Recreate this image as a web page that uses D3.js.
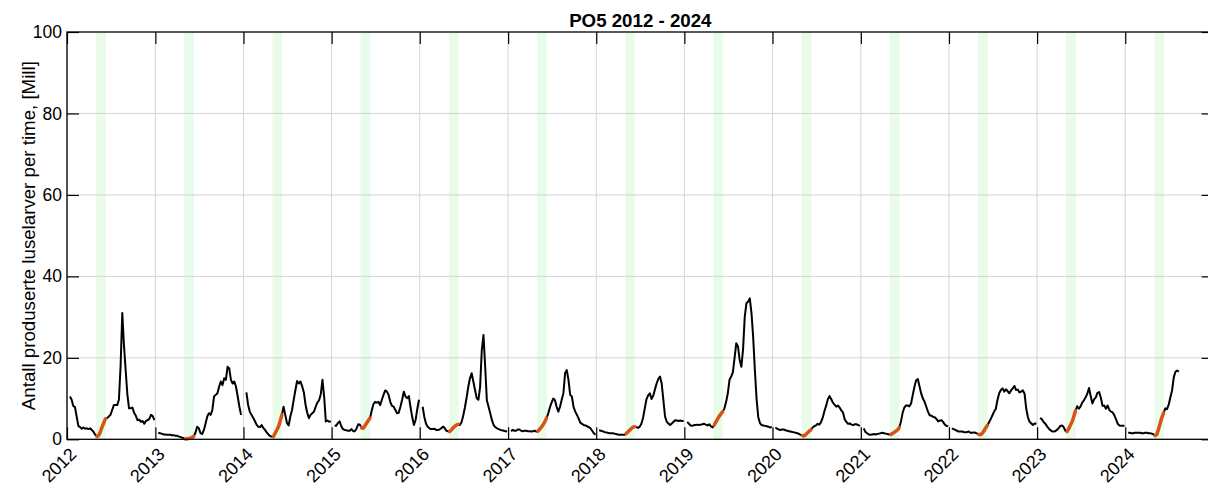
<!DOCTYPE html>
<html>
<head>
<meta charset="utf-8">
<title>PO5 2012 - 2024</title>
<script src="https://cdn.jsdelivr.net/npm/d3@7"></script>
<style>
  html, body { margin: 0; padding: 0; background: #fff; }
  svg { display: block; }
  text { font-family: "Liberation Sans", Arial, Helvetica, sans-serif; fill: #000; }
</style>
</head>
<body>
<svg id="chart" width="1208" height="485"></svg>
<script>
// Weekly production of lice larvae (million per hour), PO5.
// Each series starts at week 2 of its year.
const years = [2012, 2013, 2014, 2015, 2016, 2017, 2018, 2019, 2020, 2021, 2022, 2023, 2024];
const yTickValues = [0, 20, 40, 60, 80, 100];
const firstWeek = 2;

const lice2012 = [10.5, 9.8, 8.2, 7.9, 5.6, 3.3, 3.0, 2.6, 2.9, 2.6, 2.7, 2.5, 2.7, 2.3, 1.8, 1.1, 0.7, 0.9, 1.8, 3.0, 4.0, 5.0, 5.2, 5.6, 6.0, 7.2, 8.4, 8.4, 8.4, 9.7, 18, 31, 23, 17, 11, 7.6, 7.6, 7.8, 6.5, 5.8, 4.7, 4.8, 4.3, 4.5, 3.8, 4.5, 4.7, 5.0, 6.0, 5.7, 4.7];
const lice2013 = [1.6, 1.5, 1.4, 1.2, 1.2, 1.1, 1.1, 1.1, 1.0, 1.0, 0.9, 0.9, 0.7, 0.6, 0.4, 0.25, 0.1, 0.1, 0.2, 0.3, 0.5, 0.7, 1.6, 3.1, 2.7, 1.5, 1.3, 2.3, 3.9, 5.6, 6.4, 6.0, 7.2, 10.5, 10.9, 11.3, 12.9, 14.2, 13.3, 15, 14.6, 17.8, 17.4, 14.6, 13.7, 14.2, 12.9, 10.5, 8, 6];
const lice2014 = [11.5, 8.5, 6.8, 6.0, 5.3, 4.5, 3.6, 3.1, 3.0, 3.5, 2.8, 2.3, 1.7, 1.2, 0.8, 0.65, 0.7, 1.5, 2.3, 3.1, 4.5, 6.0, 8.0, 6.0, 4.0, 3.4, 5.6, 7.2, 9.7, 12.1, 14.3, 13.7, 14.2, 13.0, 11.5, 8.5, 6.5, 5.2, 6.0, 6.4, 6.8, 8.0, 9.0, 9.6, 11, 14.6, 10.5, 4.4, 4.6, 4.3, 4.4];
const lice2015 = [3.4, 3.3, 4.0, 4.4, 3.2, 2.5, 2.3, 2.2, 2.1, 2.1, 2.5, 2.0, 2.0, 2.6, 3.7, 3.6, 2.8, 2.7, 3.3, 4.0, 4.6, 5.2, 7.0, 8.6, 9.2, 9.0, 9.2, 8.4, 9.7, 10.9, 12.0, 11.7, 10.9, 9.2, 8.2, 8.0, 7.2, 6.4, 6.5, 8.0, 9.7, 11.7, 10.5, 10.1, 10.6, 7.8, 5.4, 3.5, 4.8, 7.5, 9.7];
const lice2016 = [8.0, 5.5, 3.8, 3.1, 2.7, 2.5, 2.5, 2.6, 2.3, 2.3, 2.4, 2.7, 3.1, 2.8, 2.1, 2.0, 1.9, 2.3, 2.8, 3.2, 3.5, 3.7, 3.5, 4.2, 5.8, 7.8, 10.2, 12.9, 15.0, 16.2, 14.2, 12.1, 10.1, 9.7, 12.9, 21.9, 25.6, 17.8, 9.5, 8.0, 6.4, 4.7, 3.5, 3.0, 2.7, 2.5, 2.3, 2.2, 2.1, 2.0, 1.9];
const lice2017 = [2.0, 2.3, 2.1, 2.1, 2.4, 2.4, 2.1, 2.0, 2.1, 2.1, 2.0, 2.0, 1.9, 2.0, 2.1, 1.9, 2.0, 2.5, 3.0, 3.6, 4.3, 5.2, 6.3, 7.8, 9.0, 10.0, 9.6, 8.0, 6.8, 8.0, 9.7, 11.3, 16.2, 17.0, 14.6, 10.9, 10.5, 8.0, 6.8, 6.0, 5.1, 4.1, 3.8, 3.5, 3.4, 3.2, 3.0, 2.7, 2.1, 1.5, 1.1];
const lice2018 = [2.2, 2.1, 2.0, 1.8, 1.7, 1.6, 1.5, 1.5, 1.5, 1.4, 1.3, 1.2, 1.1, 1.1, 1.1, 1.1, 1.4, 1.8, 2.2, 2.6, 3.0, 3.1, 3.0, 2.8, 3.1, 3.8, 5.3, 7.6, 9.8, 10.8, 11.3, 9.9, 10.7, 12.2, 13.7, 14.8, 15.4, 13.7, 9.7, 5.6, 4.3, 3.9, 3.5, 3.9, 4.3, 4.7, 4.6, 4.5, 4.6, 4.5, 4.5];
const lice2019 = [4.3, 3.8, 3.4, 3.3, 3.5, 3.5, 3.6, 3.5, 3.6, 3.7, 3.8, 3.6, 3.4, 3.7, 3.2, 2.9, 3.5, 4.3, 5.0, 5.7, 6.3, 6.8, 7.6, 9.2, 11.3, 14.6, 15.4, 16.5, 20.0, 23.6, 22.8, 19.5, 17.8, 22.0, 30.0, 33.4, 33.8, 34.6, 31.0, 25.0, 17.0, 10.0, 5.5, 4.0, 3.5, 3.4, 3.3, 3.2, 3.1, 2.9, 3.0];
const lice2020 = [2.9, 2.6, 2.4, 2.3, 2.4, 2.4, 2.2, 2.1, 2.0, 1.9, 1.8, 1.7, 1.6, 1.5, 1.3, 1.1, 0.9, 0.8, 1.2, 1.6, 2.0, 2.3, 2.9, 3.2, 3.4, 3.8, 3.6, 4.2, 5.3, 6.9, 8.2, 9.8, 10.6, 9.9, 9.0, 8.5, 8.0, 8.3, 7.8, 7.1, 6.6, 4.9, 4.3, 3.8, 3.9, 3.6, 3.5, 3.7, 3.7, 3.5, 3.3];
const lice2021 = [2.7, 1.8, 1.5, 1.2, 1.1, 1.2, 1.3, 1.2, 1.3, 1.4, 1.5, 1.6, 1.5, 1.4, 1.3, 1.2, 1.2, 1.4, 1.7, 2.0, 2.3, 2.9, 4.3, 6.5, 7.8, 8.3, 8.3, 8.1, 8.8, 10.9, 12.9, 14.5, 14.8, 13.0, 11.2, 10.0, 9.2, 8.0, 6.8, 5.9, 5.8, 5.5, 5.4, 5.0, 4.4, 4.6, 4.7, 4.2, 3.6, 3.3, 3.2];
const lice2022 = [2.7, 2.5, 2.3, 2.1, 1.9, 1.9, 1.9, 1.8, 1.7, 1.8, 1.9, 1.6, 1.6, 1.7, 1.6, 1.4, 1.2, 1.1, 1.5, 2.1, 2.8, 3.4, 4.2, 5.0, 5.9, 6.8, 7.5, 9.7, 11.3, 12.1, 12.5, 11.7, 12.3, 11.8, 11.3, 12.0, 12.5, 13.1, 12.1, 12.2, 11.5, 11.7, 12.0, 11.2, 7.5, 5.4, 4.3, 3.9, 3.5, 3.9, 3.8];
const lice2023 = [5.2, 5.0, 4.3, 3.9, 3.3, 2.7, 2.3, 2.0, 1.9, 2.0, 2.3, 2.7, 3.3, 3.4, 3.0, 2.1, 1.9, 2.6, 3.5, 4.3, 5.6, 7.0, 8.1, 7.5, 8.1, 9.0, 9.6, 10.3, 11.2, 12.6, 10.6, 8.8, 9.8, 10.3, 11.4, 11.6, 10.2, 8.2, 8.3, 7.5, 8.3, 7.2, 6.8, 6.6, 5.9, 4.9, 3.8, 3.4, 3.3, 3.3, 3.3];
const lice2024 = [1.6, 1.6, 1.5, 1.5, 1.6, 1.6, 1.6, 1.6, 1.5, 1.5, 1.6, 1.6, 1.5, 1.5, 1.4, 1.2, 0.9, 1.2, 2.5, 4.0, 5.4, 6.5, 7.6, 7.4, 8.5, 10.3, 12.0, 15.2, 16.6, 16.9, 16.6];

// Spring window (month index, day) shaded every year; weeks inside it are highlighted.
const windowStart = [4, 1];   // 1 May
const windowEnd = [5, 10];    // 10 June

const seriesByYear = [lice2012, lice2013, lice2014, lice2015, lice2016, lice2017, lice2018,
                      lice2019, lice2020, lice2021, lice2022, lice2023, lice2024];

// date of a given week in a given year
const weekDate = (year, week) => new Date(year, 0, 1 + 7 * week - 2);

const seasons = years.map((year, i) => ({
  year,
  points: seriesByYear[i].map((v, k) => ({ date: weekDate(year, firstWeek + k), value: v }))
}));

const svg = d3.select("#chart");
const plotLeft = 67, plotRight = 1213.6, plotTop = 32, plotBottom = 439.3;

const x = d3.scaleTime()
  .domain([new Date(2012, 0, 1), new Date(2025, 0, 1)])
  .range([plotLeft, plotRight]);
const y = d3.scaleLinear().domain([0, 100]).range([plotBottom, plotTop]);

// shaded spring windows
svg.append("g").selectAll("rect")
  .data(years)
  .join("rect")
  .attr("x", d => x(new Date(d, windowStart[0], windowStart[1])))
  .attr("width", d => x(new Date(d, windowEnd[0], windowEnd[1])) - x(new Date(d, windowStart[0], windowStart[1])))
  .attr("y", plotTop)
  .attr("height", plotBottom - plotTop)
  .attr("fill", "#e9fbe9");

// grid
const yearDates = years.map(yr => new Date(yr, 0, 1));
const grid = svg.append("g").attr("stroke", "#d4d4d4").attr("stroke-width", 1);
grid.selectAll(".vg").data(yearDates).join("line")
  .attr("class", "vg")
  .attr("x1", d => x(d)).attr("x2", d => x(d))
  .attr("y1", plotTop).attr("y2", plotBottom);
grid.selectAll(".hg").data(yTickValues.slice(1, -1)).join("line")
  .attr("class", "hg")
  .attr("x1", plotLeft).attr("x2", plotRight)
  .attr("y1", d => y(d)).attr("y2", d => y(d));

// weekly series, one segment per year
const line = d3.line().x(d => x(d.date)).y(d => y(d.value));
const inWindow = d => {
  const yr = d.date.getFullYear();
  return d.date >= new Date(yr, windowStart[0], windowStart[1]) &&
         d.date <= new Date(yr, windowEnd[0], windowEnd[1]);
};

svg.append("g").selectAll("path")
  .data(seasons)
  .join("path")
  .attr("d", s => line(s.points))
  .attr("fill", "none")
  .attr("stroke", "#000")
  .attr("stroke-width", 2)
  .attr("stroke-linejoin", "round");

svg.append("g").selectAll("path")
  .data(seasons)
  .join("path")
  .attr("d", s => line(s.points.filter(inWindow)))
  .attr("fill", "none")
  .attr("stroke", "#d95319")
  .attr("stroke-width", 3.5)
  .attr("stroke-linejoin", "round")
  .attr("stroke-linecap", "round");

// axes, ticks pointing inwards on all four sides
const styleAxis = g => {
  g.select(".domain").remove();
  g.selectAll(".tick line").attr("stroke", "#000").attr("stroke-width", 1.2);
};

svg.append("g")
  .attr("transform", `translate(0,${plotBottom})`)
  .call(d3.axisBottom(x).tickValues(yearDates).tickSizeInner(-12).tickSizeOuter(0)
        .tickFormat(d3.timeFormat("%Y")))
  .call(styleAxis)
  .call(g => g.selectAll(".tick text")
    .attr("font-size", 18)
    .attr("text-anchor", "end")
    .attr("y", null).attr("dy", null)
    .attr("transform", "translate(10,16) rotate(-45)"));

svg.append("g")
  .attr("transform", `translate(0,${plotTop})`)
  .call(d3.axisTop(x).tickValues(yearDates).tickSizeInner(-12).tickSizeOuter(0).tickFormat(""))
  .call(styleAxis);

svg.append("g")
  .attr("transform", `translate(${plotLeft},0)`)
  .call(d3.axisLeft(y).tickValues(yTickValues).tickSizeInner(-12).tickSizeOuter(0).tickPadding(5))
  .call(styleAxis)
  .call(g => g.selectAll(".tick text").attr("font-size", 17.5));

svg.append("g")
  .attr("transform", `translate(${plotRight},0)`)
  .call(d3.axisRight(y).tickValues(yTickValues).tickSizeInner(-12).tickSizeOuter(0).tickFormat(""))
  .call(styleAxis);

// axes box
svg.append("rect")
  .attr("x", plotLeft).attr("y", plotTop)
  .attr("width", plotRight - plotLeft).attr("height", plotBottom - plotTop)
  .attr("fill", "none").attr("stroke", "#000").attr("stroke-width", 1.3);

// title and y label
svg.append("text")
  .attr("x", (plotLeft + plotRight) / 2).attr("y", 27)
  .attr("text-anchor", "middle")
  .attr("font-size", 18.7).attr("font-weight", "bold")
  .text("PO5 2012 - 2024");

svg.append("text")
  .attr("transform", `translate(35,${(plotTop + plotBottom) / 2}) rotate(-90)`)
  .attr("text-anchor", "middle")
  .attr("font-size", 18.7)
  .text("Antall produserte luselarver per time, [Mill]");
</script>
</body>
</html>
